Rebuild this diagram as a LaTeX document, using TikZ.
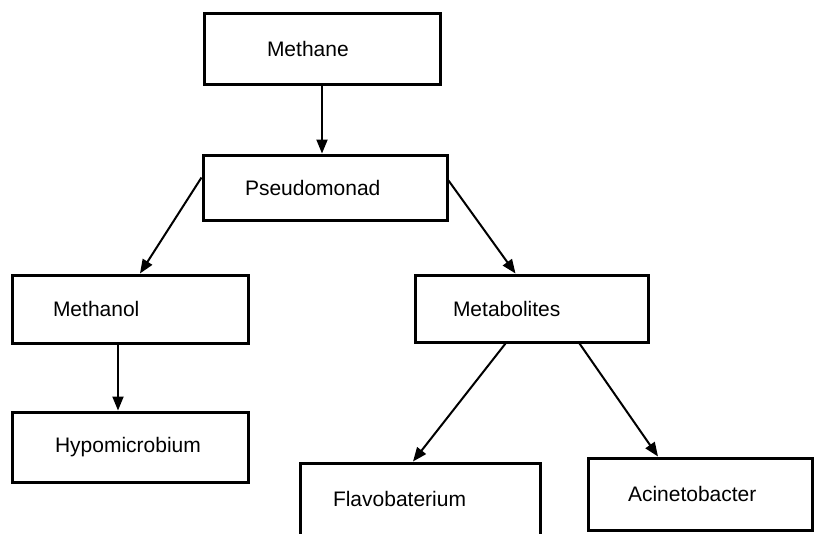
\documentclass[tikz,border=0pt]{standalone}
\usepackage{fontspec}
\setmainfont{Liberation Sans}
\usetikzlibrary{arrows.meta, positioning}
\tikzstyle{stage} = [rectangle, draw, line width=3pt, align=left, inner ysep=0pt, font=\fontsize{21}{24}\selectfont]
\tikzstyle{arrow} = [line width=2pt,->,>={Triangle[length=14pt,width=11pt]}]

\begin{document}
\begin{tikzpicture}[x=1pt, y=-1pt]
        \useasboundingbox (0,0) rectangle (816,533);
        \node[stage, text width=110pt, inner xsep=63pt, minimum height=71pt] (methane) at (322,48.5) {Methane};
        \node[stage, text width=160pt, inner xsep=42pt, minimum height=65pt] (pseudo) at (325,187.5) {Pseudomonad};
        \node[stage, text width=154pt, inner xsep=41pt, minimum height=68pt] (methanol) at (130,309) {Methanol};
        \node[stage, text width=150pt, inner xsep=43pt, minimum height=70pt] (hypo) at (130,447) {Hypomicrobium};
        \node[stage, text width=157pt, inner xsep=38pt, minimum height=67pt] (metab) at (531.5,308.5) {Metabolites};
        \node[stage, text width=174pt, inner xsep=33pt, minimum height=72pt] (flavo) at (420,499) {Flavobaterium};
        \node[stage, text width=144pt, inner xsep=40pt, minimum height=72pt] (acin) at (700,494) {Acinetobacter};
        \draw[arrow] (methane.south) -- (methane.south |- pseudo.north);
        \draw[arrow] ([yshift=10pt]pseudo.west) -- ([xshift=10pt]methanol.north);
        \draw[arrow] ([yshift=7pt]pseudo.east) -- ([xshift=-16pt]metab.north);
        \draw[arrow] ([xshift=-12pt]methanol.south) -- ([xshift=-12pt]hypo.north);
        \draw[arrow] ([xshift=-26pt]metab.south) -- ([xshift=-7pt]flavo.north);
        \draw[arrow] ([xshift=48pt]metab.south) -- ([xshift=-42pt]acin.north);
    \end{tikzpicture}
\end{document}
